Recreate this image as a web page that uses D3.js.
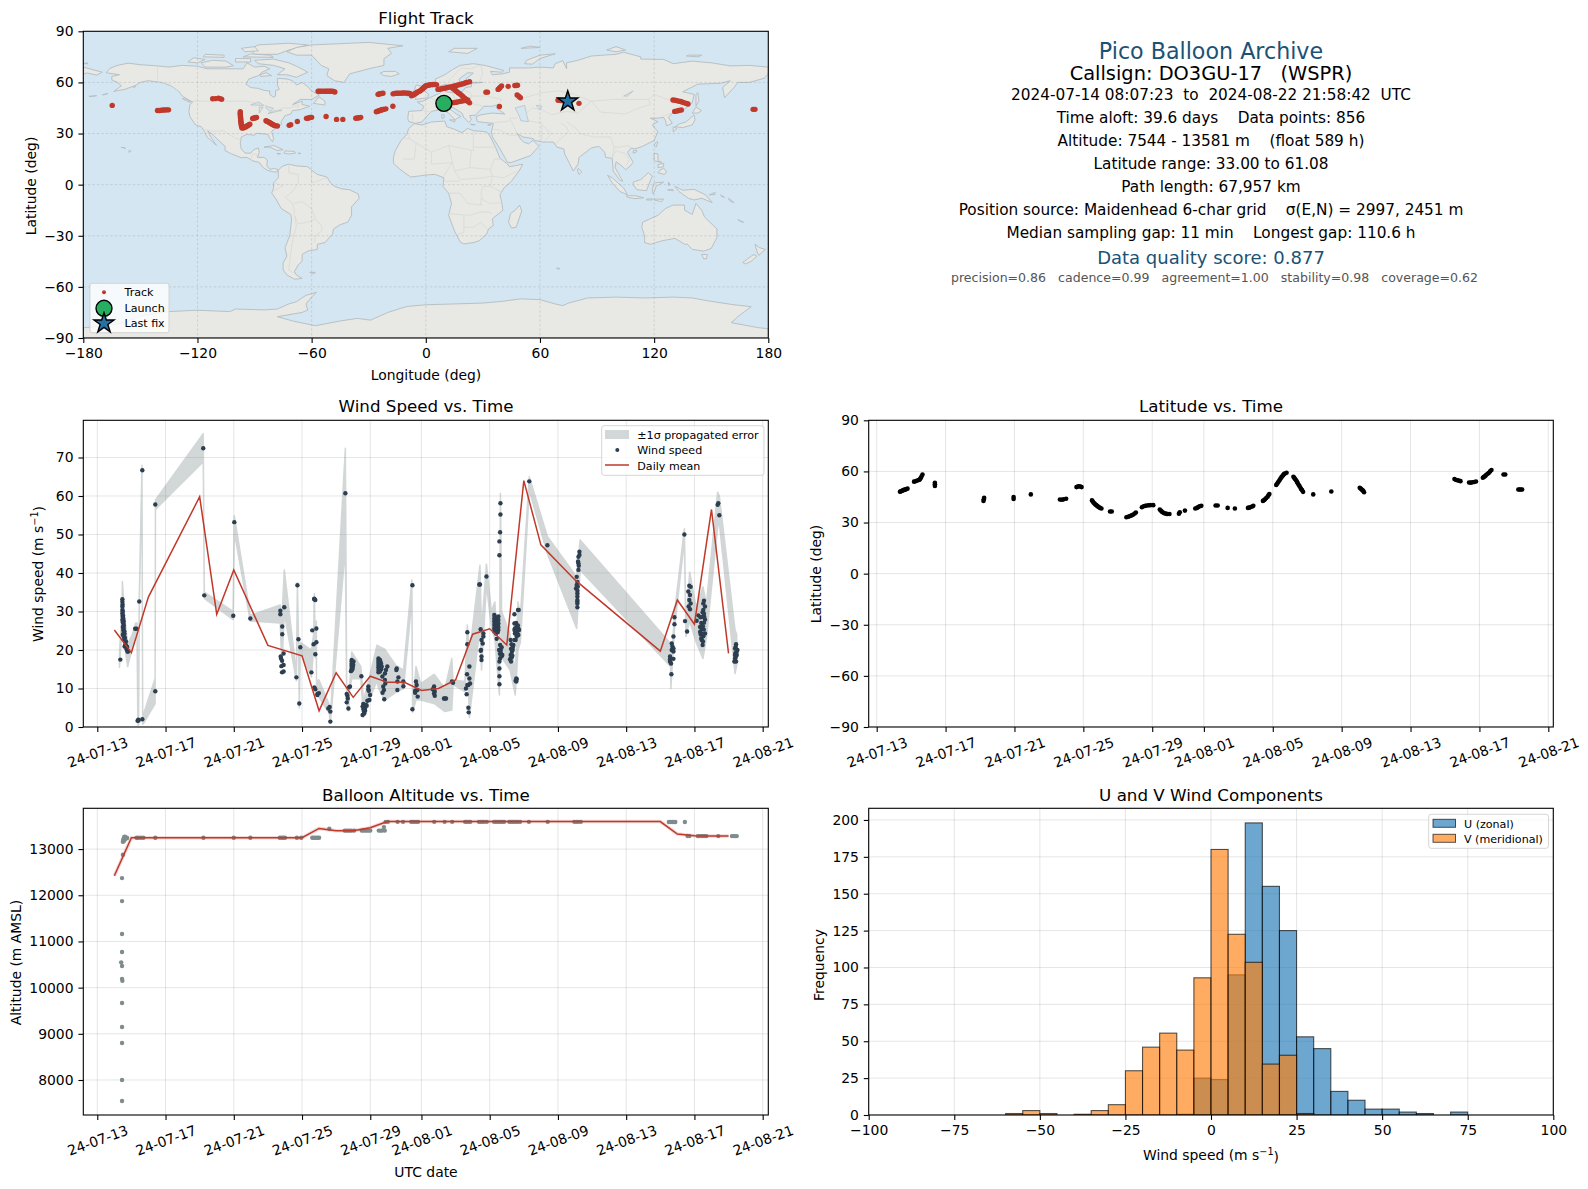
<!DOCTYPE html>
<html><head><meta charset="utf-8">
<script src="https://cdn.jsdelivr.net/npm/d3@7/dist/d3.min.js"></script>
<style>html,body{margin:0;padding:0;background:#fff}svg{display:block;font-family:"DejaVu Sans",sans-serif}</style>
</head><body><svg id="c" width="1588" height="1189"></svg>
<script>
// ---------- tick labels ----------
const dateTickLabels=["24-07-13","24-07-17","24-07-21","24-07-25","24-07-29","24-08-01","24-08-05","24-08-09","24-08-13","24-08-17","24-08-21"];
const lonTicks=[-180,-120,-60,0,60,120,180];
const latTicks=[-90,-60,-30,0,30,60,90];
const windTicks=[0,10,20,30,40,50,60,70];
const altTicks=[8000,9000,10000,11000,12000,13000];
const histXTicks=[-100,-75,-50,-25,0,25,50,75,100];
const histYTicks=[0,25,50,75,100,125,150,175,200];
// ---------- summary text ----------
const infoLines=["2024-07-14 08:07:23  to  2024-08-22 21:58:42  UTC","Time aloft: 39.6 days    Data points: 856","Altitude: 7544 - 13581 m    (float 589 h)","Latitude range: 33.00 to 61.08","Path length: 67,957 km","Position source: Maidenhead 6-char grid    σ(E,N) = 2997, 2451 m","Median sampling gap: 11 min    Longest gap: 110.6 h"];
// ---------- time series (days after 2024-07-13) ----------
const dailyWind=[[1,25.2],[2,19.3],[3,33.8],[6,59.8],[7,29.3],[8,40.8],[10,21.2],[12,18.5],[13,4.2],[14,14.1],[15,7.7],[16,13.2],[17,11.6],[18,11.6],[19,9.5],[20,10],[21,12.2],[22,24.1],[23,25.5],[24,21.3],[25,64],[26,47.3],[28,38.2],[33,19.7],[34,33],[35,26.7],[36,56.5],[37,19.1]];
const dailyAlt=[[1,12423],[2,13245],[3,13245],[6,13245],[7,13245],[8,13245],[10,13245],[12,13245],[13,13447],[14,13397],[15,13397],[16,13462],[17,13595],[18,13595],[19,13595],[20,13595],[21,13595],[22,13595],[23,13595],[24,13595],[25,13595],[26,13595],[28,13595],[33,13595],[34,13325],[35,13289],[36,13285],[37,13281]];
const windPoints=[[1.35,17.5],[1.47,33.2],[1.47,32.5],[1.48,31.8],[1.47,31.3],[1.47,30.4],[1.49,30],[1.47,29.5],[1.5,29],[1.49,28.7],[1.5,28.4],[1.52,28.2],[1.47,27.8],[1.55,27.5],[1.5,27.2],[1.53,26.9],[1.55,26.4],[1.5,26],[1.55,25.7],[1.52,25.2],[1.58,24.9],[1.55,24.5],[1.6,24.2],[1.5,24],[1.55,23.5],[1.62,23.2],[1.58,22.8],[1.68,22.2],[1.65,21.5],[1.7,21],[1.6,20.9],[1.75,20.8],[1.72,20.2],[1.77,19.6],[1.8,19.6],[2.22,25.5],[2.3,25.5],[2.36,1.6],[2.4,1.9],[2.42,1.7],[2.46,32.6],[2.64,66.7],[2.64,2],[3.4,9.3],[3.4,57.8],[6.21,72.4],[6.27,34.2],[7.97,28.9],[8.03,53.2],[8.97,28.2],[10.73,30.2],[10.73,29.3],[10.96,31.1],[10.84,26.1],[10.84,24.1],[10.92,19.1],[10.77,17.8],[10.75,18.3],[10.83,17.2],[10.92,16.1],[10.79,15.8],[10.92,14.4],[10.83,14.2],[11.67,12.9],[11.73,36.8],[11.79,22.8],[11.84,6.1],[11.9,20.7],[12.55,14.2],[12.6,25.1],[12.68,21.5],[12.78,18.9],[12.84,25.6],[12.84,22],[12.72,33.2],[12.78,33],[12.72,33.3],[12.72,10.3],[12.78,9.8],[12.9,8.6],[12.99,8.8],[12.9,8.3],[13.54,4.8],[13.62,5.2],[13.66,4],[13.66,1.4],[14.54,60.7],[14.62,8.6],[14.66,8.1],[14.68,7.4],[14.62,6.4],[14.72,4.8],[14.81,10.5],[14.75,10.3],[14.91,17.4],[14.91,17],[14.91,16.5],[14.91,16.1],[14.91,15.7],[14.91,15.2],[14.91,14.8],[15,16.1],[15.02,17],[14.97,15.5],[14.95,16.6],[14.95,15],[14.87,14.5],[15.48,13.2],[15.89,10.5],[15.89,9.8],[15.91,9.4],[15.99,8.3],[15.95,7],[15.83,6.8],[15.59,6],[15.75,5.7],[15.55,5.3],[15.69,4.8],[15.63,4],[15.55,3.1],[15.65,3.5],[15.79,5.5],[15.65,5],[15.7,4.2],[15.6,4.6],[16.48,17.8],[16.48,17.2],[16.48,16.7],[16.48,16.1],[16.48,15.5],[16.48,14.8],[16.48,14.2],[16.52,17.5],[16.52,16.4],[16.52,15.2],[16.57,17.4],[16.6,16.9],[16.6,15.9],[16.63,16.5],[16.64,15],[16.67,15.7],[16.57,14.4],[17,15.7],[16.92,14.8],[16.86,13.9],[16.71,13.1],[16.76,10.5],[16.8,9.6],[16.72,8.9],[16.82,7.2],[16.86,12.2],[16.88,11.3],[17.53,14.8],[17.55,15.2],[17.65,12.9],[17.59,11.8],[17.59,9.6],[17.94,11.8],[17.94,10.6],[18.47,36.8],[18.47,4.6],[18.63,9.4],[18.68,11.8],[18.72,10.9],[18.76,9.6],[18.78,7.9],[18.63,8.9],[19.74,10.5],[19.74,9.6],[19.74,8.7],[19.78,8.1],[19.66,9.8],[19.78,9.2],[20.32,7.4],[20.38,7.4],[20.44,7.4],[20.79,11.8],[20.85,11.5],[21.61,10],[21.65,8.5],[21.67,13.7],[21.81,15.7],[21.75,10.9],[21.81,12.6],[21.85,11.3],[21.69,10.9],[21.69,24.6],[21.69,21.5],[21.75,5],[21.77,3.8],[22.43,37],[22.39,37],[22.81,39.1],[22.47,25.4],[22.52,22.6],[22.63,24.3],[22.59,21.7],[22.49,20],[22.52,17.4],[22.52,18.3],[22.47,19.8],[22.63,23.5],[23.27,29.1],[23.27,28.2],[23.27,27.4],[23.27,26.5],[23.27,25.6],[23.27,24.8],[23.3,28.7],[23.3,27.8],[23.3,26.9],[23.3,26],[23.3,25.2],[23.37,27.8],[23.37,26.9],[23.37,26],[23.37,25.2],[23.37,24.3],[23.41,22.9],[23.44,28],[23.44,27],[23.44,26.2],[23.44,25.4],[23.47,24.6],[23.51,28.7],[23.51,27.8],[23.51,26.9],[23.51,26],[23.51,25.2],[23.63,58.1],[23.63,55.2],[23.61,50.6],[23.57,48.2],[23.57,44.6],[23.61,21.3],[23.7,20.7],[23.55,20],[23.66,19.1],[23.6,19],[23.65,20],[23.74,18.7],[23.61,17.8],[23.7,18.4],[23.57,17],[23.57,15.2],[23.57,13.2],[23.57,11.1],[24.23,22.6],[24.45,22.6],[24.39,21.3],[24.35,20],[24.23,18.7],[24.29,18.1],[24.19,17.6],[24.25,17],[24.35,20.7],[24.3,19.5],[24.33,18.5],[24.25,20.3],[24.28,21.5],[24.56,12.6],[24.56,11.8],[24.58,12.4],[24.52,12],[24.45,29.3],[24.45,26.9],[24.66,30.4],[24.7,30.4],[24.48,25.6],[24.58,26],[24.68,25.6],[24.72,25.2],[24.58,24.8],[24.48,24.3],[24.68,23.9],[24.58,23.5],[24.52,22.6],[24.45,25.2],[24.52,25.6],[24.62,25.2],[24.62,24.3],[24.55,27],[24.65,26.4],[25.32,63.8],[26.38,47.2],[28.26,45.5],[28.26,44.7],[28.2,44.2],[28.18,43],[28.2,42.5],[28.22,41.9],[28.2,40.8],[28.1,39],[28.14,37.7],[28.1,36.9],[28.16,36.5],[28.06,36],[28.14,35.4],[28.14,34.7],[28.14,33.9],[28.14,33],[28.14,32.6],[28.14,32.1],[28.14,31.1],[33.57,18.3],[33.77,17.7],[33.57,17.6],[33.57,17],[33.63,16.5],[33.65,13.7],[33.67,21.7],[33.71,20.9],[33.77,20.4],[33.67,20],[33.77,19.6],[33.77,23.5],[33.83,28.5],[33.83,26.7],[34.41,50],[34.45,27.5],[34.57,24.8],[34.7,36.7],[34.78,36.4],[34.64,35.2],[34.74,34.3],[34.7,33],[34.78,32.1],[34.66,31.3],[34.74,30.6],[35.13,27.6],[35.23,29],[35.33,26],[35.43,28.6],[35.62,27.9],[35.56,27.1],[35.43,25.4],[35.33,24.7],[35.52,23.6],[35.62,24.3],[35.43,22.6],[35.48,21.3],[35.37,24],[35.35,28.5],[35.4,27],[35.5,26.2],[35.55,25.3],[35.45,24.2],[35.4,23],[35.5,22.2],[35.58,28.6],[35.48,29.8],[35.56,32.8],[35.52,32.1],[35.62,31.3],[35.52,30.4],[35.56,29.4],[36.36,57.7],[36.4,58.1],[36.46,55],[37.44,21.5],[37.42,20.8],[37.38,20.4],[37.52,20],[37.46,19.4],[37.4,19.2],[37.38,18.7],[37.48,18.7],[37.42,18.2],[37.38,17.8],[37.34,17],[37.44,17]];
const latPoints=[[1.35,48.1],[1.4,48.3],[1.45,48.5],[1.5,48.8],[1.55,49],[1.6,49.2],[1.65,49.3],[1.7,49.5],[1.79,49.9],[2.17,54],[2.25,54.2],[2.35,54.6],[2.45,55],[2.5,55.3],[2.55,56],[2.6,57],[2.66,58.2],[3.38,53.3],[3.38,52.5],[3.38,51.4],[6.2,42.7],[6.22,43.6],[6.24,44.5],[7.95,43.8],[7.95,45],[8.95,46.5],[10.64,43.5],[10.75,43.4],[10.85,43.6],[11,44],[11.6,50.8],[11.7,51.2],[11.8,51.2],[11.9,50.8],[12.5,43],[12.55,42.3],[12.6,41.6],[12.65,41.1],[12.7,40.6],[12.75,40.2],[12.8,39.8],[12.85,39.4],[12.9,39],[12.97,38.6],[13.05,38.2],[13.55,36.5],[13.65,36.5],[14.5,33.1],[14.6,33.4],[14.68,33.7],[14.75,34],[14.82,34.3],[14.9,34.7],[14.98,35.3],[15.05,35.9],[15.4,39],[15.5,39.6],[15.6,39.8],[15.7,40],[15.8,40.1],[15.9,40.2],[16.06,40.2],[16.44,37.6],[16.5,37],[16.55,36.5],[16.6,36],[16.68,35.6],[16.75,35.3],[16.82,35.1],[16.9,35],[17,35],[17.55,35.2],[17.6,36],[17.9,37],[18.5,38.2],[18.6,38.6],[18.68,39.1],[18.75,39.6],[18.85,39.8],[19.68,40],[19.8,40],[20.38,38.6],[20.8,38.2],[21.56,38.6],[21.63,38.8],[21.7,39],[21.8,39.4],[21.87,39.8],[22.43,42.7],[22.5,43.2],[22.55,43.6],[22.62,44.4],[22.7,45.2],[22.75,46],[22.8,46.7],[23.2,52],[23.25,52.8],[23.3,53.5],[23.35,54.2],[23.4,55],[23.45,55.8],[23.5,56.5],[23.55,57.2],[23.6,57.8],[23.65,58.4],[23.7,58.8],[23.8,59.2],[24.2,56.9],[24.25,56.2],[24.3,55.5],[24.35,54.8],[24.4,54],[24.45,53.1],[24.5,52.2],[24.55,51.4],[24.6,50.5],[24.65,49.7],[24.7,49],[24.76,48],[25.35,46.5],[26.4,48.2],[28.05,50.4],[28.1,50],[28.15,49.5],[28.2,49],[28.25,48.6],[28.3,47.8],[33.55,55.5],[33.65,55],[33.72,54.8],[33.8,54.6],[33.9,54.3],[34.4,53.5],[34.5,53.4],[34.6,53.6],[34.7,53.8],[34.8,54.1],[35.2,56.3],[35.25,56.7],[35.3,57],[35.35,57.5],[35.4,58],[35.48,58.6],[35.55,59.2],[35.62,60],[35.7,60.8],[36.4,58.2],[36.5,58.2],[37.26,49.4],[37.33,49.4],[37.4,49.4],[37.48,49.4]];
const altPoints=[[1.45,12372],[1.5,12877],[1.45,11874],[1.45,11160],[1.45,10770],[1.4,10547],[1.45,10468],[1.45,10190],[1.47,10150],[1.45,9667],[1.45,9147],[1.45,8801],[1.45,8000],[1.45,7545],[1.5,13160],[1.52,13200],[1.55,13230],[1.58,13260],[1.62,13270],[1.68,13250],[1.75,13240],[1.6,13200],[1.55,13170],[1.65,13220],[2.3,13245],[2.4,13245],[2.55,13245],[2.7,13245],[3.4,13245],[6.22,13245],[8,13245],[8.97,13245],[10.7,13245],[10.8,13245],[10.9,13245],[11,13245],[11.7,13245],[11.95,13245],[12.6,13245],[12.7,13245],[12.8,13245],[12.9,13245],[13,13245],[13.6,13440],[14.5,13400],[14.6,13400],[14.7,13400],[14.8,13400],[14.9,13400],[15.05,13400],[15.5,13400],[15.6,13400],[15.7,13400],[15.8,13400],[15.9,13400],[16,13400],[16.5,13400],[16.6,13400],[16.7,13400],[16.85,13400],[16.8,13476],[16.9,13590],[17.03,13590],[17.6,13590],[17.92,13590],[18.4,13590],[18.5,13590],[18.6,13590],[18.7,13590],[18.8,13590],[19.75,13590],[20.36,13590],[20.8,13590],[21.56,13590],[21.65,13590],[21.75,13590],[21.86,13590],[22.37,13590],[22.47,13590],[22.57,13590],[22.67,13590],[22.83,13590],[23.26,13590],[23.36,13590],[23.46,13590],[23.56,13590],[23.66,13590],[23.76,13590],[23.84,13590],[24.15,13590],[24.25,13590],[24.35,13590],[24.45,13590],[24.55,13590],[24.65,13590],[24.78,13590],[25.3,13590],[26.4,13590],[27.96,13590],[28.08,13590],[28.2,13590],[28.34,13590],[33.5,13585],[33.6,13585],[33.7,13585],[33.8,13585],[33.88,13585],[34.44,13585],[34.6,13281],[34.7,13281],[35.2,13281],[35.3,13281],[35.4,13281],[35.5,13281],[35.6,13281],[35.7,13281],[36.4,13281],[37.2,13281],[37.3,13281],[37.4,13281],[37.48,13281]];
// ---------- histogram: [bin start, count], 5 m/s wide ----------
const uCounts=[[-10,0.5],[-5,25],[0,24],[5,95],[10,198],[15,155],[20,125],[25,53],[30,45],[35,16],[40,10],[45,4],[50,4],[55,2],[60,1],[70,2]];
const vCounts=[[-60,1],[-55,3],[-50,1],[-40,0.5],[-35,3],[-30,7],[-25,30],[-20,46],[-15,55.5],[-10,44],[-5,93],[0,180],[5,122.5],[10,103.5],[15,34.5],[20,40.5],[25,1]];
// ---------- map track ----------
const launchPos=[9.5,47.7], lastFixPos=[74.6,48.9];
const track=[[-164.8,46.5],[-141,43.5],[-140,43.5],[-139,43.7],[-138,43.8],[-137,43.8],[-136,43.9],[-135.2,43.9],[-112,50.4],[-110.5,50.5],[-109,50.8],[-108.2,50.5],[-107.3,50.1],[-97.5,42.8],[-97.5,42],[-97.5,41.2],[-97.4,40.4],[-97.4,39.6],[-97.3,38.8],[-97.3,38],[-97.2,37.2],[-97.1,36.4],[-97,35.6],[-96.9,34.8],[-96.8,34.2],[-96.6,33.2],[-96,33.3],[-95.5,33.5],[-95,33.8],[-94.5,34],[-94,34.4],[-93.5,34.7],[-93,35.1],[-92.5,35.5],[-91,38.8],[-90.5,39],[-90,39.2],[-89.5,39.3],[-89,39.4],[-84,37.5],[-83.5,37.2],[-83,37],[-82.5,36.6],[-82,36.3],[-81.5,36],[-81,35.6],[-80.5,35.3],[-80,35],[-79.5,34.8],[-79,34.6],[-78,34.4],[-71.8,34.8],[-71,35.2],[-67.5,37.1],[-62.7,38.9],[-62,39],[-61.5,39.2],[-60.7,39.4],[-60,39.5],[-52.4,40],[-46.9,38.3],[-43.6,38.3],[-36.8,39],[-36,39.1],[-35.5,39.2],[-34.8,39.3],[-34.2,39.5],[-26,42.8],[-25.5,43],[-25,43.2],[-24.5,43.4],[-24,43.6],[-23.5,43.8],[-23,44],[-22.5,44.1],[-22,44.2],[-21,44.5],[-17.3,46],[-56.6,54.8],[-55.8,54.8],[-55,54.8],[-54,54.8],[-53,54.8],[-52.2,54.8],[-51.5,54.8],[-50.7,54.8],[-50,54.8],[-49.2,54.8],[-48.5,54.7],[-47.8,54.4],[-25.1,53],[-24.5,53.2],[-24,53.4],[-23.2,53.5],[-22.5,53.7],[-17.2,53.3],[-16.4,53.5],[-15.5,53.6],[-14.6,53.6],[-13.7,53.7],[-12.8,53.7],[-12,53.8],[-11,53.8],[-10,53.7],[-9.2,53.6],[-8.4,53.5],[-7.5,52.2],[-7,52.5],[-6.5,52.8],[-6,53.1],[-5.5,53.5],[-5,53.8],[-4.5,54.2],[-3.8,54.6],[-3.1,55],[-2.5,55.5],[-2,56],[-1.5,56.5],[-1,57],[-0.5,57.5],[0,58],[0.8,58.2],[1.5,58.4],[2.2,58.6],[3,58.7],[3.7,58.8],[4.5,58.8],[5.6,58.6],[6.4,55.9],[7.2,56],[8,56.2],[9,56.4],[10,56.6],[11,56.9],[12,57.2],[13,57.4],[14,57.6],[15,57.9],[16,58.2],[17,58.5],[18,58.8],[19,59.1],[20,59.4],[21,59.8],[21.5,60],[23,60.4],[14.3,56.5],[14.9,56],[15.5,55.4],[16.2,54.7],[17,54],[17.8,53.4],[18.5,52.7],[19.2,52],[20,51.2],[20.8,50.4],[21.5,49.6],[22.2,48.8],[23,48],[14,48],[15,48.2],[16,48.4],[17,48.6],[18,48.9],[19,49.1],[20,49.3],[21,49.5],[22,49.7],[31.6,54.3],[32.4,54.3],[38,55.9],[38.6,56.5],[39,57],[39.8,57.9],[43.3,57.7],[46.8,58.2],[47.6,58.2],[48.2,58.3],[48,52.6],[49,51.8],[49.7,51],[38.7,45.9],[69.5,49.5],[71,49.4],[72,49.2],[80.5,47.7],[129.9,49.7],[131,49.5],[132,49.3],[133,49],[134,48.8],[135,48.4],[136,48],[137,47.6],[137.8,47.3],[130.8,43],[132,43.2],[133,43.5],[134.3,43.8],[172,44.2],[173,44.2]];
// ---------- base-map geography [lon,lat] ----------
const landPolygons=[
[[-168,65.7],[-166,68.3],[-162,70],[-156.5,71.3],[-150,70.4],[-141,69.7],[-135,69],[-128,70],[-120,69.5],[-115,68],[-108,68],[-100,68],[-96,68],[-94,71.5],[-90,69],[-85,69.5],[-82,68],[-86,66],[-88,64],[-93,62],[-94.5,59],[-92,57],[-88,56.5],[-85,55.3],[-82,55],[-82,52.9],[-80,51.3],[-79,52],[-79,55],[-77,56],[-78,58.5],[-78,62.4],[-73,62],[-70,61],[-68,58.5],[-65,60],[-62,57.5],[-60,55],[-56,52.5],[-60,50],[-66,50],[-70,47],[-65,49],[-65,47],[-61,46],[-66,44],[-70,43.5],[-71,41.5],[-74,40.5],[-76,37],[-76,35],[-79,33.5],[-81,31],[-80,27],[-80.5,25.2],[-82,27],[-83,29.5],[-85,29.7],[-89,30.2],[-90,29],[-94,29.5],[-97,28],[-97.5,24],[-97,21],[-95,18.5],[-92,18.5],[-90.5,20.5],[-88,21.5],[-87.5,19],[-88.5,16],[-85,16],[-83.3,14.5],[-83.5,11],[-82,9],[-79.5,9.5],[-77.5,8.7],[-78,7.5],[-80,7.5],[-83,8.3],[-85.5,10],[-87.5,13],[-91,14],[-94,16],[-97,15.8],[-102,18],[-105.5,20],[-105.5,22.5],[-109,26],[-112.5,30],[-114.7,31.5],[-113,28],[-110,23],[-112,25],[-115,28],[-116.5,31.5],[-118,34],[-121,35],[-124,40],[-124.5,43],[-124,47],[-122.5,48.5],[-125,50],[-128,52],[-130,55],[-134,58],[-139,60],[-146,61],[-150,60],[-153,58],[-158,56],[-164,54.7],[-160,58],[-162,60],[-165,61.5],[-165,63.5],[-161,64.5]],
[[-62,66],[-68,63],[-73,64.5],[-78,64.5],[-74,68],[-80,70],[-88,71],[-90,73],[-80,73.7],[-72,71.5],[-67,69]],
[[-105,69],[-116,69],[-118,71.5],[-112,73],[-105,72.5],[-101,69.8]],
[[-125,72],[-120,71.5],[-116,73.5],[-122,74.5]],
[[-90,76.5],[-78,76.5],[-72,79],[-62,82],[-72,83],[-88,82],[-92,80]],
[[-96,75],[-80,74.7],[-82,76],[-92,76.7]],
[[-95,78],[-88,78.5],[-90,81],[-97,80]],
[[-117,75],[-106,74.7],[-106,76],[-116,76.5]],
[[-87,63.5],[-81,64],[-84,65.7],[-87,64.5]],
[[-100,72],[-92,72],[-92,74],[-100,74]],
[[-128,50.5],[-125.5,50],[-123.5,48.5],[-125,48.7]],
[[-154,57.5],[-152.5,58],[-153,57]],
[[-170,52.7],[-167,53.5],[-168,53.2]],[[-177,51.8],[-173,52.2],[-175,51.9]],
[[-59,47.7],[-53,46.7],[-53,49],[-56,51.5]],
[[-73,78],[-68,76],[-60,76],[-55,70],[-51,68],[-52,64],[-48,61],[-43,60],[-40,65],[-30,68],[-22,70],[-22,74],[-18,77],[-20,80],[-12,81.5],[-30,83.5],[-50,82.5],[-60,82],[-68,80.5]],
[[-24,65.5],[-22,64],[-18,63.5],[-14,65],[-16,66.5],[-22,66.4]],
[[-85,22],[-80,23],[-75,20.5],[-78,20],[-82,22]],
[[-74,19.8],[-69,19.5],[-68.5,18.5],[-72,18],[-74.5,18.5]],
[[-78.3,18.3],[-76.3,18.2],[-77,17.8]],
[[-67.2,18.5],[-65.7,18.4],[-66,18]],
[[-156,19],[-155,19.5],[-155.5,20.2],[-156,20]],
[[-160,21.9],[-157.7,21.3],[-158.2,21.6]],
[[-77.5,8.7],[-75,11],[-72,12],[-68,11],[-62,10.5],[-60,8.5],[-57,6],[-52,4.5],[-50,1],[-48,-1],[-44,-2.5],[-40,-3],[-35.5,-5.5],[-35,-8],[-39,-13],[-39,-18],[-41,-22],[-45,-23.5],[-48.5,-26],[-49,-29],[-53,-34],[-57,-35],[-57,-38],[-62,-39],[-65,-41],[-65,-45],[-67,-47],[-69,-51],[-68,-53],[-65,-55],[-69,-55.5],[-73,-53],[-75,-50],[-75,-46],[-73,-42],[-74,-37],[-71.5,-30],[-70.5,-20],[-71,-17.5],[-76,-14],[-79,-8],[-81,-5],[-80,-2],[-80,1],[-77.5,4],[-77.5,7]],
[[-61,-51.5],[-58,-51.5],[-59,-52.3]],
[[-6,35.8],[-2,35],[3,36.8],[10,37.3],[11,34],[15,32.5],[19,30.5],[22,33],[25,31.7],[32,31],[34,28],[37,21],[39,15.5],[43,12],[44,10.5],[51,12],[49,8],[45,2],[41,-2],[39,-6],[40,-11],[40.5,-15],[35,-20],[35.5,-24],[33,-26],[32,-29],[28,-33],[25,-34],[20,-34.8],[18,-33.5],[15,-27],[12,-18],[13.5,-11],[12,-5],[9,-1],[9.5,4],[5,6],[0,5.7],[-4,5],[-8,4.5],[-13,8.5],[-17,12.5],[-17,16],[-16,20],[-13,26],[-10,29.5],[-9,33]],
[[49.3,-12],[50.4,-15.5],[47.5,-25],[45,-25.5],[43.5,-22],[44.5,-17],[47,-15]],
[[-9,37],[-9.5,39],[-9,43],[-2,43.5],[-1,46],[-4.5,48.5],[-1.5,49],[2,51],[4,52],[7,53.5],[8.5,55],[8.5,57],[10.5,57.5],[10.5,54.5],[14,54],[19,54.5],[21,57],[24,57.5],[24,59.5],[30,60],[23,60],[21,62],[25,65.5],[22,65.7],[17.5,62],[18,60],[16.5,56.5],[14,55.5],[12.5,56],[11,59],[8,58],[5.5,59],[5,62],[10,64.5],[14,67.5],[18,70],[25,71],[31,70],[41,67],[40,66],[34,66.5],[35,64.5],[40,65],[44,66],[44,68.5],[54,68.5],[60,69],[67,68.5],[68,71],[72,72.8],[74,68],[74,71.5],[80,73],[87,75.5],[100,76.5],[104,77.7],[113,75],[113,73.7],[125,73.5],[130,71],[140,72.5],[150,71.5],[160,69.7],[170,70],[180,69],[180,65],[178,62.5],[170,60],[164,60],[162,57],[157,51],[156,57],[160,61],[155,59.5],[143,59],[135,54.5],[141,53],[140,48],[135,43.5],[130,42.5],[127.5,39.5],[129.5,36],[126.5,34.5],[126,37.5],[125,39.5],[121.5,39],[118,39],[122,37],[119,35],[122,31],[120,26],[114,22.5],[110,21],[108,21.5],[106,19],[109,13],[107,10.5],[105,8.7],[103,11],[100,13.5],[99.5,10],[103.5,2],[102,2.5],[98.5,8],[98,15.5],[94.5,16],[94,19],[91,22.5],[87,21.5],[80.5,16],[80,12],[77.5,8],[73,18],[72.5,21],[69,22],[67,25],[61.5,25],[57,26],[56.5,27],[51,28],[48,30],[50,26.5],[51.5,25],[54,24],[56.3,26],[59.5,22.5],[55,17],[45,13],[43,13],[39,21],[35,28],[34.5,31],[35.5,36],[30.5,36.5],[27,37],[26.5,40],[29,41],[35,42],[41.5,41.5],[37,45],[38,47],[35,46],[33,46],[30.5,46],[28,43],[26,40.8],[23,40.5],[24,38],[22.5,36.5],[20,39.5],[19,42],[14,45.5],[12.5,44.5],[16,41.5],[18.5,40],[16.5,39],[15.5,38],[12,42],[8.5,44.3],[3,43],[0,39.5],[-2,36.8],[-5.5,36]],
[[-180,69],[-175,67.5],[-170,66],[-173,64.3],[-178,65.5],[-180,65]],
[[137,75.5],[143,75],[145,76],[138,76]],[[95,79],[100,78],[105,79],[100,81]],[[50,80],[60,80.5],[55,81.3]],[[-180,71],[-177.5,71],[-178,71.5]],
[[-5.5,50],[1,51],[1.5,53],[-2,56],[-2,57.7],[-5,58.5],[-6,56],[-3,54],[-5,52]],
[[-10,52],[-6,52],[-6,55],[-10,54]],
[[12.5,38],[15.5,38],[15,36.7]],[[8.3,41],[9.7,41],[9.5,39],[8.5,39]],[[23.5,35.5],[26,35.2],[24.5,35]],[[32.5,35],[34.5,35.6],[33.5,34.7]],
[[52,71],[56,70.7],[60,74],[68,76.8],[60,76],[53,73]],
[[12,78],[22,77],[27,80],[15,80]],
[[80,9.5],[82,7.5],[80.5,6],[79.8,8]],
[[142,46],[143.5,49],[143,54],[142,53],[142,48]],
[[140,42],[143,42],[145,43.5],[142,45.5]],
[[131,34],[135,33.5],[140,35],[141.5,38],[141,41],[140,40],[137,37],[133,35.5]],
[[130,31],[132,33],[130,34]],
[[120,23],[121,22],[122,25],[121,25]],
[[109,18.5],[110.5,19],[111,20],[109,20]],
[[120,18.5],[122,18],[122,14],[124,13],[120,14]],
[[122,7],[125.5,6],[126.5,8],[125,9.5],[123,8.5]],
[[122,10],[125,10.5],[125,12.5],[122,11.8]],
[[109,1.5],[113,3],[117,7],[119,5],[117.5,1],[116,-3.5],[111,-3],[109,0]],
[[95.5,5.5],[98,4],[104,-2],[106,-6],[102,-4],[98,1]],
[[105.5,-6.5],[110,-6.5],[114.5,-7.7],[110,-8.2],[106,-7.5]],
[[119.5,-5.5],[120.5,-3],[121,-1],[125,1.5],[120,1],[119,-3]],
[[116,-8.5],[119,-8.3],[119,-9],[116,-9]],[[120,-8.5],[125,-8.5],[124,-10],[120,-9]],
[[127,-3],[130,-3],[130,-3.6]],[[127.5,1.5],[128.5,0],[127.5,-0.5]],
[[131,-1],[135,-3.3],[141,-2.7],[147,-6],[150.5,-10.5],[145,-8],[141,-9],[138,-8],[133,-4]],
[[149,-6],[152,-4.5],[152,-5.8]],[[155,-6],[157,-7.5],[155.5,-7]],[[159,-8],[162,-10.5],[160,-9.8]],
[[114,-22],[122,-18],[126,-14],[130,-12],[136,-12],[136,-15],[140,-17.5],[142,-11],[145,-15],[146.5,-19],[153,-26],[153,-31],[150,-37.5],[146,-39],[140,-38],[137.5,-35],[136,-35],[131,-31.5],[124,-33],[118,-35],[115,-34],[115,-30],[113.5,-25]],
[[145,-41],[148,-41],[147.5,-43.5],[146,-43.5]],
[[173,-35],[175.5,-37],[178.5,-38],[175,-41.5],[174,-39]],
[[172.5,-41],[174,-42],[171,-45],[168,-46.5],[166.5,-45.7],[171,-42]],
[[164,-20.5],[167,-22],[165.8,-21.9]],
[[68.7,-49],[70.3,-49],[70,-49.8]],
[[-180,-84],[-170,-83],[-158,-81],[-150,-77],[-135,-74.5],[-120,-73.7],[-103,-74.5],[-100,-73],[-85,-73.5],[-78,-73],[-72,-70],[-68,-68.7],[-63,-65],[-57.5,-63.2],[-60,-66],[-63,-70],[-62,-73.6],[-65,-75],[-78,-77.5],[-70,-80],[-58,-82.8],[-45,-80],[-36,-78.5],[-29,-79.5],[-20,-75],[-10,-71.5],[0,-70.5],[15,-70],[30,-69.5],[40,-68.5],[50,-67],[60,-67.5],[68,-70],[72,-71],[75,-69.5],[85,-66.5],[100,-66],[115,-66.5],[130,-66],[140,-66.5],[150,-68.5],[162,-70.5],[171,-71.6],[164,-77.5],[160.5,-81],[175,-84],[180,-84.5],[180,-90],[-180,-90]]
];
const inlandWater=[[[47,45],[52,46.5],[53,41],[54,37],[50,37.5],[49,40.5]],[[-92,46.8],[-85,46.5],[-88,48.5]],[[-87.5,42],[-85.5,45.5],[-87.5,45.5]],[[-84,46],[-80,44.8],[-82,43],[-84,45]],[[-83,41.7],[-79,42.7],[-76,44],[-76,43.4],[-80,43.2]],[[58,46.5],[61,46],[60,44]],[[104,52],[109,55],[106,52]]];
const borders=[[[-123,49],[-95,49],[-89,48],[-83,46],[-82,43],[-79,43],[-75,45],[-71,45],[-67,47],[-67,45]],[[-141,69.7],[-141,60],[-135,59],[-130,55]],[[-117,32.5],[-111,31.3],[-106,31.7],[-103,29],[-97.2,26]],[[-92,14.5],[-91,18],[-89,18],[-88.5,16]],[[-72,12],[-72,7],[-67,6],[-67,1],[-70,-4],[-74,-7.5],[-70,-11],[-69,-16],[-69.5,-17.5]],[[-60,8],[-60,5],[-60,1],[-52,4]],[[-80,-3.5],[-75,-1],[-79,1]],[[-69,-11],[-65,-10],[-60,-14],[-58,-20],[-62,-22],[-67,-23],[-69,-18]],[[-69,-18],[-68,-24],[-70,-33],[-71,-40],[-72,-50],[-69,-52]],[[-58,-20],[-55,-24],[-54.5,-27],[-58,-30],[-58.5,-34]],[[-13,27],[-8.7,27],[-8.7,29]],[[-8.7,27],[3,19],[12,23],[25,20],[25,32]],[[-5,25],[-6,15],[-12,15]],[[25,22],[37,22]],[[12,23],[14,13],[3,12],[3,19]],[[14,13],[9,4.5]],[[24,20],[23,10],[15,8],[14,13]],[[23,10],[34,9],[36,15],[40,15]],[[34,9],[35,5],[41,4],[48,8]],[[35,5],[34,-1],[40,-4.5]],[[34,-1],[30,-1],[29,-5],[30,-9],[34,-11],[40,-10.7]],[[12,-5],[18,-5],[22,-11],[29,-12],[29,-8]],[[12,-17],[23,-18],[29,-16],[33,-16],[35,-17]],[[20,-18],[20,-28],[17,-29]],[[29,-22],[32,-26]],[[20,-25],[25,-25],[29,-22]],[[15,8],[18,3],[30,4],[35,5]],[[9.5,2],[18,2]],[[47,50],[52,51],[61,54],[70,55],[77,53.5],[87,49],[98,50],[107,50],[117,50],[120,53],[127,50],[135,48],[131,43]],[[53,42],[56,45],[61,44],[66,41],[74,43],[80,42],[87,49]],[[74,37],[79,33],[81,30],[88,28],[97,28],[99,22],[102,22],[106,23],[108,21.5]],[[62,25],[66,30],[61,35]],[[71,36],[74,34],[75,31],[71,27],[68,24]],[[48,30],[46,35],[44,39],[48,39]],[[61,25],[61,36],[54,37.5]],[[48,29],[44,29],[39,32],[36,32.5]],[[36,36.5],[42,37],[44,37.5]],[[87,49],[92,42.5],[105,41.5],[112,45],[118,47],[117,50]],[[124.5,40],[130,42.5]],[[99,22],[98,16],[100,20],[105,18],[107,14.5],[105,11]],[[2,51],[6,49.5],[8,48],[7,44]],[[-1.5,43.3],[3,42.5]],[[-7,42],[-7,37]],[[14,54],[15,51],[18,49.5],[23,49],[24,52],[23.5,54],[21,55]],[[8,48],[13,47.5],[17,48],[23,48],[30,46]],[[13,47.5],[14,45.5]],[[24,52],[32,52],[40,50],[38,47]],[[28,60],[30,65],[29,70]],[[18,68.5],[24,68],[28,70]],[[12,61],[18,68]]];
// ---------- propagated-error envelope ----------
const bandDays=[1.3,1.45,1.47,1.6,1.78,2.05,2.25,2.33,2.38,2.42,2.46,2.62,2.66,2.72,3.39,3.41,6.21,6.27,7.96,8.03,8.97,10.72,10.82,10.96,11.67,11.73,11.79,11.84,11.9,12.55,12.68,12.72,12.78,12.84,12.85,13,13.6,13.66,14.54,14.62,14.72,14.8,14.91,15.45,15.6,15.85,16.4,16.48,16.85,17.5,17.95,18.44,18.48,18.68,18.95,19.74,20.38,20.78,20.85,21.55,21.69,21.81,22.43,22.52,22.81,23.1,23.3,23.57,23.63,23.7,24.2,24.5,24.66,24.8,25.32,26.38,28.1,28.3,33.6,33.62,33.83,34.41,34.5,34.72,35.1,35.5,35.7,36.36,36.46,37.38,37.48];
const bandLow=[15.5,25.5,28,21,15.7,20.5,24.5,24,0.5,0.5,31.6,65,0.7,1,6.1,56.5,68.9,33.4,27.9,50.5,27.5,27,16,29.5,12,36,22,5,19.5,13,20.5,32,18,22,9,7.7,3.5,1,46.4,6,4.2,10,12.5,12.5,2.5,6,12,10,7,9,10,33,3.8,7,7,6.1,4,4.4,11,9.2,19.5,2.5,26,14.8,37,26,23,8.3,52,18,14.8,8.3,20,22,61.5,45,25.6,40.8,15.7,10,25.5,48.5,23.5,27.5,22,17.8,23,52,53,13.9,16];
const bandHigh=[19.5,30,37.8,29,21.5,24,27,27,3,3,33.6,68,3,3.5,12.6,59,76.2,35,30,54.9,29,31.7,28,40.8,14,37.5,23.6,7,22,20,24,34.7,19.8,27.5,12,12.2,5.8,2,72.4,9.5,6,11,19.5,15.7,7,11,21.3,21,20.2,16,14.8,38.2,5.4,15.7,11.3,13.7,10,17.8,12.2,11.8,26.5,19,42,25,42.3,30,32.5,14,60.7,30,24,14,32.5,29,65,49.5,39,48.6,21.7,14,29.5,51.5,26,40.2,31,36.4,32,61,60,25.2,24];

// ---------- layout ----------
const svg=d3.select("#c");
const NUM=t=>String(t).replace("-","\u2212");
const L=83.3,R=768.3,L2=868.7,R2=1553.3;
const rows=[[31.3,338],[420.3,727],[808.3,1115]];
const day0=Date.UTC(2024,6,13), toDate=d=>new Date(day0+d*864e5);
const parseTick=d3.utcParse("%y-%m-%d"), dateTicks=dateTickLabels.map(parseTick);
const xLeft=d3.scaleUtc().domain([toDate(-0.82),toDate(39.33)]).range([L,R]);
const xRight=d3.scaleUtc().domain([toDate(-0.464),toDate(39.29)]).range([L2,R2]);
let clipN=0;
function panel(x,y){
  const g=svg.append("g");
  const [x0,x1]=x.range(),[y1,y0]=y.range();
  const id="clip"+(clipN++);
  svg.append("clipPath").attr("id",id).append("rect").attr("x",x0).attr("y",y0).attr("width",x1-x0).attr("height",y1-y0);
  const body=g.append("g").attr("clip-path",`url(#${id})`);
  return {g,body,x0,x1,y0,y1};
}
function grid(p,x,y,xt,yt,style){
  const gg=p.body.append("g").attr("class","grid");
  const s=style||{stroke:"#000",op:0.1,w:1,dash:null};
  gg.selectAll("line.v").data(xt).enter().append("line").attr("x1",d=>x(d)).attr("x2",d=>x(d)).attr("y1",p.y0).attr("y2",p.y1).attr("stroke",s.stroke).attr("stroke-opacity",s.op).attr("stroke-width",s.w).attr("stroke-dasharray",s.dash);
  gg.selectAll("line.h").data(yt).enter().append("line").attr("y1",d=>y(d)).attr("y2",d=>y(d)).attr("x1",p.x0).attr("x2",p.x1).attr("stroke",s.stroke).attr("stroke-opacity",s.op).attr("stroke-width",s.w).attr("stroke-dasharray",s.dash);
}
function frame(p,x,y,xAxis,yAxis,rotated){
  const ax=p.g.append("g").attr("transform",`translate(0,${p.y1})`).call(xAxis);
  const ay=p.g.append("g").attr("transform",`translate(${p.x0},0)`).call(yAxis);
  [ax,ay].forEach(a=>{a.select(".domain").remove();
    a.attr("font-family",null).attr("font-size",null);
    a.selectAll("line").attr("stroke","#000").attr("stroke-width",1.1);
    a.selectAll("text").attr("fill","#000").style("font-size","13.9px").style("font-family",'"DejaVu Sans"');});
  if(rotated){ax.selectAll("text").attr("y",0).attr("dy",".35em").attr("text-anchor","middle").attr("transform","translate(0,25.5) rotate(-20)");}
  p.g.append("rect").attr("x",p.x0).attr("y",p.y0).attr("width",p.x1-p.x0).attr("height",p.y1-p.y0).attr("fill","none").attr("stroke","#000").attr("stroke-width",1.1);
}
function txt(x,y,s,size,o={}){
  const t=svg.append("text").attr("x",x).attr("y",y).attr("text-anchor",o.anchor||"middle").attr("dominant-baseline",o.base||"central").style("font-size",size+"px").attr("fill",o.fill||"#000");
  if(o.rot!=null)t.attr("transform",`rotate(${o.rot} ${x} ${y})`);
  t.text(s);return t;
}
function ylabelSup(x,y,parts){
  const t=svg.append("text").attr("transform",`translate(${x},${y}) rotate(-90)`).attr("text-anchor","middle").attr("dominant-baseline","central").style("font-size","13.9px");
  t.append("tspan").text(parts[0]);t.append("tspan").attr("dy","-0.4em").style("font-size","9.7px").text(parts[1]);t.append("tspan").attr("dy","0.4em").text(parts[2]);
}
function legendBox(x0,y0,x1,y1){svg.append("rect").attr("x",x0).attr("y",y0).attr("width",x1-x0).attr("height",y1-y0).attr("rx",2.5).attr("fill","#fff").attr("fill-opacity",0.8).attr("stroke","#ccc").attr("stroke-opacity",0.8).attr("stroke-width",1);}
const dateAxis=x=>d3.axisBottom(x).tickValues(dateTicks).tickFormat(d3.utcFormat("%y-%m-%d")).tickSize(4.9).tickSizeOuter(0);
const numAxisL=(y,t)=>d3.axisLeft(y).tickValues(t).tickFormat(NUM).tickSize(4.9).tickPadding(4.9).tickSizeOuter(0);
const numAxisB=(x,t)=>d3.axisBottom(x).tickValues(t).tickFormat(NUM).tickSize(4.9).tickPadding(4.9).tickSizeOuter(0);
const RED="#c0392b",NAVY="#2c3e50",GREY="#7f8c8d",BLUE="#1a5276";

// ---------- Flight Track ----------
{
  const x=d3.scaleLinear().domain([-180,180]).range([L,R]);
  const y=d3.scaleLinear().domain([-90,90]).range([rows[0][1],rows[0][0]]);
  const p=panel(x,y);
  p.body.append("rect").attr("x",L).attr("y",rows[0][0]).attr("width",R-L).attr("height",rows[0][1]-rows[0][0]).attr("fill","#d4e6f1");
  const ring=d3.line().x(d=>x(d[0])).y(d=>y(d[1]));
  p.body.append("g").selectAll("path").data(landPolygons).enter().append("path").attr("d",d=>ring(d)+"Z").attr("fill","#e8e8e4").attr("stroke","#b4bcc0").attr("stroke-width",0.9).attr("stroke-linejoin","round");
  p.body.append("g").selectAll("path").data(inlandWater).enter().append("path").attr("d",d=>ring(d)+"Z").attr("fill","#d4e6f1").attr("stroke","#b4bcc0").attr("stroke-width",0.7);
  p.body.append("g").selectAll("path").data(borders).enter().append("path").attr("d",ring).attr("fill","none").attr("stroke","#d6d8d6").attr("stroke-width",0.7);
  grid(p,x,y,lonTicks,latTicks,{stroke:"#7f8c8d",op:0.3,w:0.8,dash:"2.5 2"});
  p.body.append("g").selectAll("circle").data(track).enter().append("circle").attr("cx",d=>x(d[0])).attr("cy",d=>y(d[1])).attr("r",2.7).attr("fill",RED);
  p.body.append("circle").attr("cx",x(launchPos[0])).attr("cy",y(launchPos[1])).attr("r",8).attr("fill","#27ae60").attr("stroke","#000").attr("stroke-width",1.4);
  p.body.append("path").attr("d",d3.symbol(d3.symbolStar,125)()).attr("transform",`translate(${x(lastFixPos[0])},${y(lastFixPos[1])})`).attr("fill","#2471a3").attr("stroke","#000").attr("stroke-width",1.4);
  frame(p,x,y,numAxisB(x,lonTicks),numAxisL(y,latTicks));
  txt(426,17.8,"Flight Track",16.7);
  txt(426,374.5,"Longitude (deg)",13.9);
  txt(31,186,"Latitude (deg)",13.9,{rot:-90});
  legendBox(90,283.3,169,332.7);
  svg.append("circle").attr("cx",104).attr("cy",292.3).attr("r",2).attr("fill",RED);
  svg.append("circle").attr("cx",104).attr("cy",308.3).attr("r",8).attr("fill","#27ae60").attr("stroke","#000").attr("stroke-width",1.4);
  svg.append("path").attr("d",d3.symbol(d3.symbolStar,125)()).attr("transform","translate(104,323.3)").attr("fill","#2471a3").attr("stroke","#000").attr("stroke-width",1.4);
  [["Track",292.3],["Launch",308.3],["Last fix",323.3]].forEach(r=>txt(124.5,r[1],r[0],11.1,{anchor:"start"}));
}
// ---------- Text panel ----------
{
  const cx=1211;
  txt(cx,50.6,"Pico Balloon Archive",22.2,{fill:BLUE});
  txt(cx,73,"Callsign: DO3GU-17   (WSPR)",19.4).style("white-space","pre");
  const ys=[94.5,117.5,140.5,163.5,186.5,209.5,233];
  infoLines.forEach((s,i)=>txt(cx,ys[i],s,15.3).style("white-space","pre"));
  txt(cx,257,"Data quality score: 0.877",18,{fill:BLUE});
  txt(1214.5,277.5,"precision=0.86   cadence=0.99   agreement=1.00   stability=0.98   coverage=0.62",12.57,{fill:"#555"}).style("white-space","pre");
}
// ---------- Wind ----------
{
  const x=xLeft,y=d3.scaleLinear().domain([0,79.66]).range([rows[1][1],rows[1][0]]);
  const p=panel(x,y);
  grid(p,x,y,dateTicks,windTicks);
  const area=d3.area().x((d,i)=>x(toDate(bandDays[i]))).y0((d,i)=>y(bandLow[i])).y1((d,i)=>y(bandHigh[i]));
  p.body.append("path").attr("d",area(bandDays)).attr("fill",GREY).attr("stroke",GREY).attr("stroke-width",1.5).attr("stroke-linejoin","round").attr("opacity",0.35);
  p.body.append("g").selectAll("circle").data(windPoints).enter().append("circle").attr("cx",d=>x(toDate(d[0]))).attr("cy",d=>y(d[1])).attr("r",2.2).attr("fill",NAVY);
  p.body.append("path").attr("d",d3.line().x(d=>x(toDate(d[0]))).y(d=>y(d[1]))(dailyWind)).attr("fill","none").attr("stroke",RED).attr("stroke-width",1.5);
  frame(p,x,y,dateAxis(x),numAxisL(y,windTicks),true);
  txt(426,406,"Wind Speed vs. Time",16.7);
  ylabelSup(37.5,574,["Wind speed (m s","\u22121",")"]);
  legendBox(601.7,425.7,764,475.3);
  svg.append("rect").attr("x",605).attr("y",430).attr("width",24).attr("height",9).attr("fill",GREY).attr("fill-opacity",0.35);
  svg.append("circle").attr("cx",617.3).attr("cy",450).attr("r",2).attr("fill",NAVY);
  svg.append("line").attr("x1",605).attr("x2",629).attr("y1",465).attr("y2",465).attr("stroke",RED).attr("stroke-width",1.5);
  [["\u00b11\u03c3 propagated error",435],["Wind speed",450.3],["Daily mean",466]].forEach(r=>txt(637.3,r[1],r[0],11.1,{anchor:"start"}));
}
// ---------- Latitude ----------
{
  const x=xRight,y=d3.scaleLinear().domain([-90,90]).range([rows[1][1],rows[1][0]]);
  const p=panel(x,y);
  grid(p,x,y,dateTicks,latTicks);
  p.body.append("g").selectAll("circle").data(latPoints).enter().append("circle").attr("cx",d=>x(toDate(d[0]))).attr("cy",d=>y(d[1])).attr("r",2.3).attr("fill","#000");
  frame(p,x,y,dateAxis(x),numAxisL(y,latTicks),true);
  txt(1211,406,"Latitude vs. Time",16.7);
  txt(816,574,"Latitude (deg)",13.9,{rot:-90});
}
// ---------- Altitude ----------
{
  const x=xLeft,y=d3.scaleLinear().domain([7242,13883]).range([rows[2][1],rows[2][0]]);
  const p=panel(x,y);
  grid(p,x,y,dateTicks,altTicks);
  p.body.append("g").selectAll("circle").data(altPoints).enter().append("circle").attr("cx",d=>x(toDate(d[0]))).attr("cy",d=>y(d[1])).attr("r",2.2).attr("fill",GREY);
  const ln=d3.line().x(d=>x(toDate(d[0]))).y(d=>y(d[1]));
  p.body.append("path").attr("d",ln(dailyAlt)).attr("fill","none").attr("stroke",RED).attr("stroke-opacity",0.2).attr("stroke-width",3.5);
  p.body.append("path").attr("d",ln(dailyAlt)).attr("fill","none").attr("stroke",RED).attr("stroke-width",1.5);
  frame(p,x,y,dateAxis(x),numAxisL(y,altTicks),true);
  txt(426,795,"Balloon Altitude vs. Time",16.7);
  txt(426,1172,"UTC date",13.9);
  txt(15.5,962.5,"Altitude (m AMSL)",13.9,{rot:-90});
}
// ---------- Histogram ----------
{
  const x=d3.scaleLinear().domain([-100,100]).range([L2,R2]);
  const y=d3.scaleLinear().domain([0,207.9]).range([rows[2][1],rows[2][0]]);
  const p=panel(x,y);
  grid(p,x,y,histXTicks,histYTicks);
  const bars=(data,color)=>p.body.append("g").selectAll("rect").data(data).enter().append("rect").attr("x",d=>x(d[0])).attr("width",d=>x(d[0]+5)-x(d[0])).attr("y",d=>y(d[1])).attr("height",d=>y(0)-y(d[1])).attr("fill",color).attr("fill-opacity",0.65).attr("stroke","#000").attr("stroke-opacity",0.65).attr("stroke-width",1.1);
  bars(uCounts,"#1f77b4");bars(vCounts,"#ff7f0e");
  frame(p,x,y,numAxisB(x,histXTicks),numAxisL(y,histYTicks));
  txt(1211,795,"U and V Wind Components",16.7);
  const xl=svg.append("text").attr("x",1211).attr("y",1155).attr("text-anchor","middle").attr("dominant-baseline","central").style("font-size","13.9px");
  xl.append("tspan").text("Wind speed (m s");xl.append("tspan").attr("dy","-0.4em").style("font-size","9.7px").text("\u22121");xl.append("tspan").attr("dy","0.4em").text(")");
  txt(819,965,"Frequency",13.9,{rot:-90});
  legendBox(1428.7,814.3,1548.5,848.3);
  [["#1f77b4",819.3,"U (zonal)",824.3],["#ff7f0e",834.3,"V (meridional)",839]].forEach(r=>{
    svg.append("rect").attr("x",1433).attr("y",r[1]).attr("width",22.5).attr("height",8).attr("fill",r[0]).attr("fill-opacity",0.65).attr("stroke","#000").attr("stroke-opacity",0.65);
    txt(1464,r[3],r[2],11.1,{anchor:"start"});
  });
}
</script></body></html>
